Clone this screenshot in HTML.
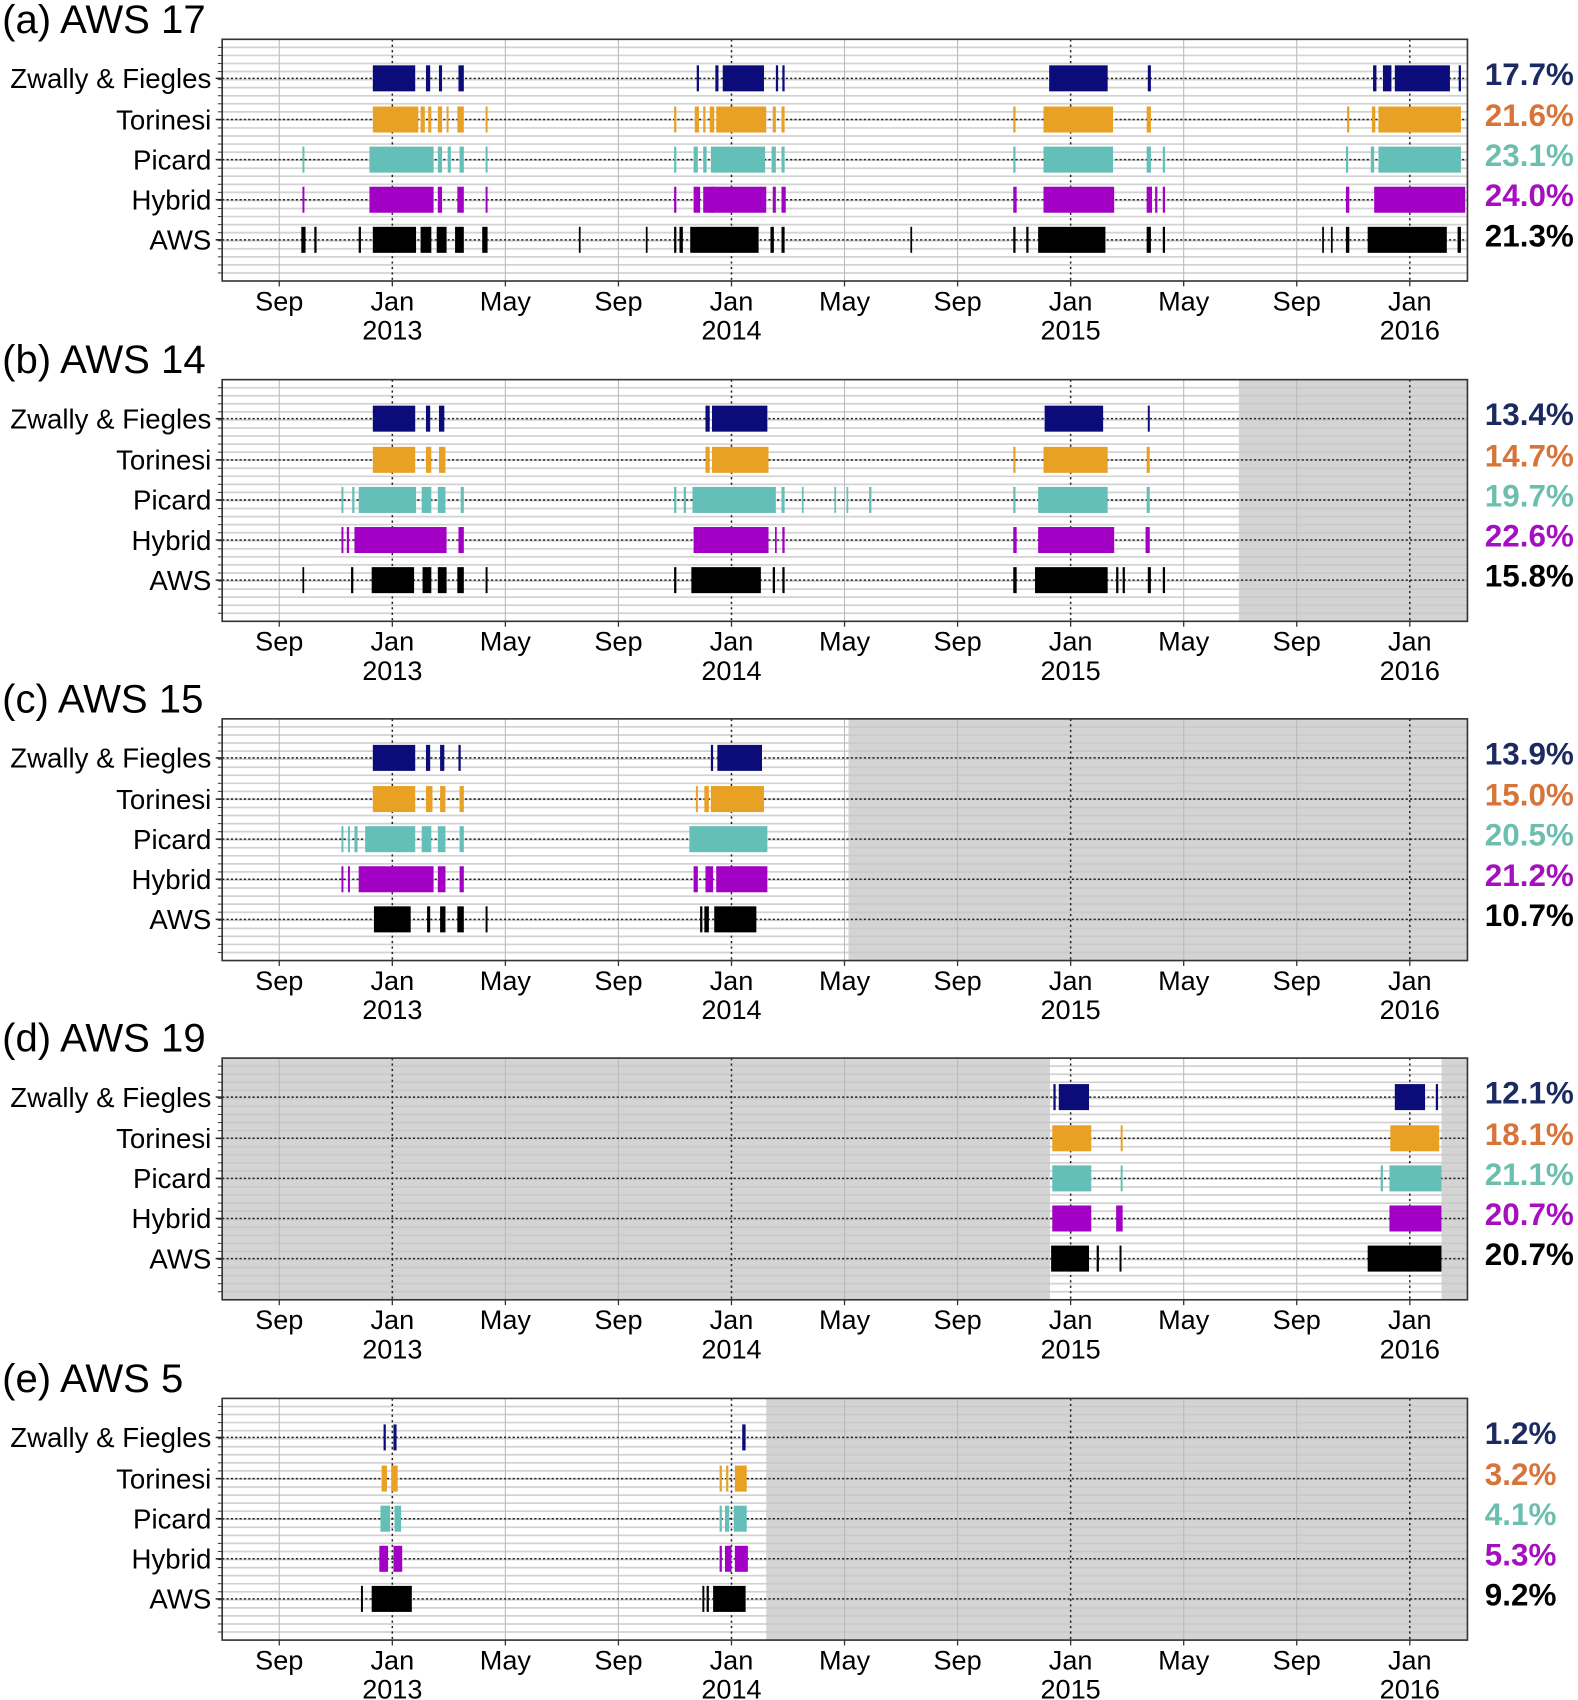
<!DOCTYPE html>
<html><head><meta charset="utf-8"><style>
html,body{margin:0;padding:0;background:#fff;}
svg{display:block;}
text{font-family:"Liberation Sans",Arial,sans-serif;}
</style></head><body>
<svg id="chart" width="1578" height="1700" viewBox="0 0 1456 1568" xmlns="http://www.w3.org/2000/svg"></svg>
<script>
// Time unit: months since Jan 2013
const panelTitles = ["(a) AWS 17","(b) AWS 14","(c) AWS 15","(d) AWS 19","(e) AWS 5"];
const seriesNames = ["Zwally & Fiegles","Torinesi","Picard","Hybrid","AWS"];
const tickMonths = [-4,0,4,8,12,16,20,24,28,32,36];
const tickLabels = ["Sep","Jan","May","Sep","Jan","May","Sep","Jan","May","Sep","Jan"];
const tickYears = ["","2013","","","2014","","","2015","","","2016"];
const percentA = ["17.7%","21.6%","23.1%","24.0%","21.3%"];
const percentB = ["13.4%","14.7%","19.7%","22.6%","15.8%"];
const percentC = ["13.9%","15.0%","20.5%","21.2%","10.7%"];
const percentD = ["12.1%","18.1%","21.1%","20.7%","20.7%"];
const percentE = ["1.2%","3.2%","4.1%","5.3%","9.2%"];
const noDataA = [];
const noDataB = [[29.95,38.1]];
const noDataC = [[16.14,38.1]];
const noDataD = [[-6.1,23.27],[37.12,38.1]];
const noDataE = [[13.23,38.1]];
// AWS 17
const a_zwally = [[-0.69,0.81],[1.19,1.34],[1.65,1.76],[2.34,2.53],[10.77,10.85],[11.43,11.54],[11.69,13.15],[13.57,13.65],[13.80,13.88],[23.24,25.31],[26.73,26.84],[34.70,34.82],[35.05,35.35],[35.47,37.42],[37.73,37.81]];
const a_torinesi = [[-0.69,0.92],[1.0,1.15],[1.27,1.38],[1.61,1.76],[1.92,1.99],[2.30,2.53],[3.30,3.37],[9.97,10.05],[10.70,10.85],[11.0,11.08],[11.23,11.39],[11.46,13.23],[13.46,13.57],[13.77,13.88],[21.97,22.05],[23.04,25.50],[26.69,26.84],[33.78,33.86],[34.66,34.78],[34.89,37.81]];
const a_picard = [[-3.18,-3.11],[-0.81,1.46],[1.61,1.76],[1.96,2.07],[2.38,2.53],[3.30,3.37],[9.97,10.05],[10.66,10.81],[11.0,11.12],[11.27,13.19],[13.42,13.57],[13.77,13.88],[21.97,22.05],[23.04,25.50],[26.69,26.84],[27.26,27.34],[33.74,33.82],[34.62,34.74],[34.89,37.81]];
const a_hybrid = [[-3.18,-3.11],[-0.81,1.46],[1.61,1.76],[2.30,2.53],[3.30,3.37],[9.97,10.05],[10.66,10.89],[11.0,11.39],[11.27,13.23],[13.46,13.57],[13.77,13.92],[21.97,22.09],[23.04,25.54],[26.69,26.88],[26.99,27.07],[27.26,27.34],[33.74,33.86],[34.74,37.96]];
const a_aws = [[-3.22,-3.07],[-2.76,-2.68],[-1.19,-1.11],[-0.69,0.84],[1.0,1.38],[1.57,1.92],[2.22,2.53],[3.18,3.37],[6.60,6.63],[8.97,9.01],[9.97,10.05],[10.16,10.28],[10.54,12.96],[13.38,13.50],[13.77,13.88],[18.33,18.37],[21.97,22.05],[22.43,22.51],[22.85,25.23],[26.69,26.84],[27.26,27.34],[32.90,32.94],[33.21,33.24],[33.74,33.86],[34.51,37.31],[37.69,37.81]];
// AWS 14
const b_zwally = [[-0.69,0.81],[1.19,1.34],[1.65,1.84],[11.08,11.23],[11.31,13.27],[23.08,25.15],[26.73,26.80]];
const b_torinesi = [[-0.69,0.81],[1.19,1.38],[1.65,1.88],[11.08,11.23],[11.31,13.31],[21.97,22.05],[23.04,25.31],[26.69,26.80]];
const b_picard = [[-1.80,-1.73],[-1.42,-1.34],[-1.19,0.84],[1.04,1.38],[1.61,1.88],[2.42,2.53],[9.97,10.05],[10.31,10.39],[10.62,13.57],[13.77,13.88],[14.49,14.53],[15.64,15.68],[16.07,16.10],[16.87,16.95],[21.97,22.05],[22.85,25.31],[26.69,26.80]];
const b_hybrid = [[-1.80,-1.73],[-1.61,-1.53],[-1.34,1.92],[2.34,2.53],[10.66,13.31],[13.54,13.57],[13.80,13.88],[21.97,22.09],[22.85,25.54],[26.65,26.80]];
const b_aws = [[-3.18,-3.14],[-1.46,-1.38],[-0.73,0.77],[1.07,1.38],[1.61,1.92],[2.30,2.53],[3.30,3.37],[9.97,10.05],[10.58,13.04],[13.46,13.54],[13.80,13.88],[21.97,22.09],[22.74,25.31],[25.61,25.69],[25.84,25.92],[26.73,26.84],[27.26,27.34]];
// AWS 15
const c_zwally = [[-0.69,0.81],[1.19,1.34],[1.69,1.84],[2.34,2.42],[11.27,11.35],[11.50,13.08]];
const c_torinesi = [[-0.69,0.81],[1.19,1.42],[1.69,1.88],[2.38,2.53],[10.74,10.81],[11.04,11.20],[11.27,13.15]];
const c_picard = [[-1.80,-1.73],[-1.57,-1.50],[-1.34,-1.23],[-0.96,0.81],[1.04,1.38],[1.61,1.88],[2.38,2.53],[10.51,13.27]];
const c_hybrid = [[-1.80,-1.73],[-1.57,-1.50],[-1.19,1.46],[1.61,1.88],[2.38,2.53],[10.66,10.81],[11.08,11.35],[11.46,13.27]];
const c_aws = [[-0.65,0.65],[1.23,1.34],[1.69,1.88],[2.30,2.53],[3.30,3.37],[10.89,10.97],[11.04,11.20],[11.39,12.88]];
// AWS 19
const d_zwally = [[23.39,23.47],[23.58,24.65],[35.47,36.54],[36.92,37.0]];
const d_torinesi = [[23.35,24.73],[25.77,25.84],[35.31,37.04]];
const d_picard = [[23.35,24.73],[25.77,25.84],[34.97,35.05],[35.28,37.12]];
const d_hybrid = [[23.35,24.73],[25.61,25.84],[35.28,37.12]];
const d_aws = [[23.31,24.65],[24.92,25.0],[25.73,25.80],[34.51,37.12]];
// AWS 5
const e_zwally = [[-0.31,-0.23],[0.04,0.15],[12.38,12.50]];
const e_torinesi = [[-0.38,-0.19],[-0.04,0.19],[11.58,11.66],[11.81,11.89],[12.12,12.54]];
const e_picard = [[-0.42,-0.08],[0.08,0.31],[11.58,11.66],[11.77,11.92],[12.08,12.54]];
const e_hybrid = [[-0.46,-0.15],[0.04,0.35],[11.58,11.66],[11.77,12.0],[12.12,12.58]];
const e_aws = [[-1.11,-1.04],[-0.73,0.69],[10.97,11.04],[11.12,11.20],[11.35,12.50]];

const panels = [
 {title:panelTitles[0], pct:percentA, nd:noDataA, s:[a_zwally,a_torinesi,a_picard,a_hybrid,a_aws]},
 {title:panelTitles[1], pct:percentB, nd:noDataB, s:[b_zwally,b_torinesi,b_picard,b_hybrid,b_aws]},
 {title:panelTitles[2], pct:percentC, nd:noDataC, s:[c_zwally,c_torinesi,c_picard,c_hybrid,c_aws]},
 {title:panelTitles[3], pct:percentD, nd:noDataD, s:[d_zwally,d_torinesi,d_picard,d_hybrid,d_aws]},
 {title:panelTitles[4], pct:percentE, nd:noDataE, s:[e_zwally,e_torinesi,e_picard,e_hybrid,e_aws]}
];
const barColors = ["#0b0b7a","#e9a125","#63bfb7","#a200c4","#000000"];
const pctColors = ["#1b2a60","#d6743a","#6cbfae","#a50fc0","#000000"];

const NS = "http://www.w3.org/2000/svg";
const svg = document.getElementById("chart");
const X0 = 205, X1 = 1354, M0 = -6.02, M1 = 38.04;
const PH = 223;
const panelTops = [36,350,663,976,1290];
const rowOffsets = [36,74,111,148,185];
function xScale(m){ const c = Math.max(M0, Math.min(M1, m)); return X0 + (c - M0) / (M1 - M0) * (X1 - X0); }
function mk(tag, attrs, parent){ const e = document.createElementNS(NS, tag); for (const k in attrs) e.setAttribute(k, attrs[k]); (parent||svg).appendChild(e); return e; }

panels.forEach((p, pi) => {
  const top = panelTops[pi];
  const g = mk("g", {});
  
  
  const t = mk("text", {x:2, y:top - 6, "font-size":37, fill:"#000"}, g);
  t.textContent = p.title;
  
  
  mk("rect", {x:X0, y:top, width:X1 - X0, height:PH, fill:"#fff"}, g);
  p.nd.forEach(r => {
    const nr = mk("rect", {x:xScale(r[0]), y:top, width:xScale(r[1]) - xScale(r[0]), height:PH, fill:"#d4d4d4"}, g);
    
    
  });
  for (let i = 1; i < 30; i++) {
    const y = top + i * PH / 30;
    mk("line", {x1:X0, x2:X1, y1:y, y2:y, stroke:"#c8c8c8", "stroke-width":1.6, opacity:0.8}, g);
    mk("line", {x1:X0 - 4, x2:X0, y1:y, y2:y, stroke:"#444", "stroke-width":1}, g);
  }
  tickMonths.forEach((m, i) => {
    const x = xScale(m);
    if (tickLabels[i] === "Jan") mk("line", {x1:x, x2:x, y1:top, y2:top + PH, stroke:"#222", "stroke-width":1.4, "stroke-dasharray":"2,3"}, g);
    else mk("line", {x1:x, x2:x, y1:top, y2:top + PH, stroke:"#bbb", "stroke-width":1}, g);
  });
  seriesNames.forEach((name, si) => {
    const cy = top + rowOffsets[si];
    mk("line", {x1:X0, x2:X1, y1:cy, y2:cy, stroke:"#222", "stroke-width":1.4, "stroke-dasharray":"2,2"}, g);
    mk("line", {x1:X0 - 6, x2:X0, y1:cy, y2:cy, stroke:"#222", "stroke-width":1.4}, g);
    const lbl = mk("text", {x:195, y:cy + 9, "font-size":25.5, "text-anchor":"end", fill:"#000"}, g);
    lbl.textContent = name;
    
    
    p.s[si].forEach(seg => {
      const x0 = xScale(seg[0]), x1 = xScale(seg[1]);
      const b = mk("rect", {x:x0, y:cy - 12, width:Math.max(1.6, x1 - x0), height:24, fill:barColors[si]}, g);
      
      
    });
    const pt = mk("text", {x:1370, y:cy + 6, "font-size":29, "font-weight":"bold", fill:pctColors[si]}, g);
    pt.textContent = p.pct[si];
    
    
  });
  mk("rect", {x:X0, y:top, width:X1 - X0, height:PH, fill:"none", stroke:"#333", "stroke-width":1.5}, g);
  tickMonths.forEach((m, i) => {
    const x = xScale(m);
    mk("line", {x1:x, x2:x, y1:top + PH, y2:top + PH + 5, stroke:"#333", "stroke-width":1.2}, g);
    const tl = mk("text", {x:x, y:top + PH + 27, "font-size":25, "text-anchor":"middle", fill:"#000"}, g);
    tl.textContent = tickLabels[i];
    
    
    if (tickYears[i]) {
      const yl = mk("text", {x:x, y:top + PH + 54, "font-size":25, "text-anchor":"middle", fill:"#000"}, g);
      yl.textContent = tickYears[i];
      
      
    }
  });
});
</script>
</body></html>
